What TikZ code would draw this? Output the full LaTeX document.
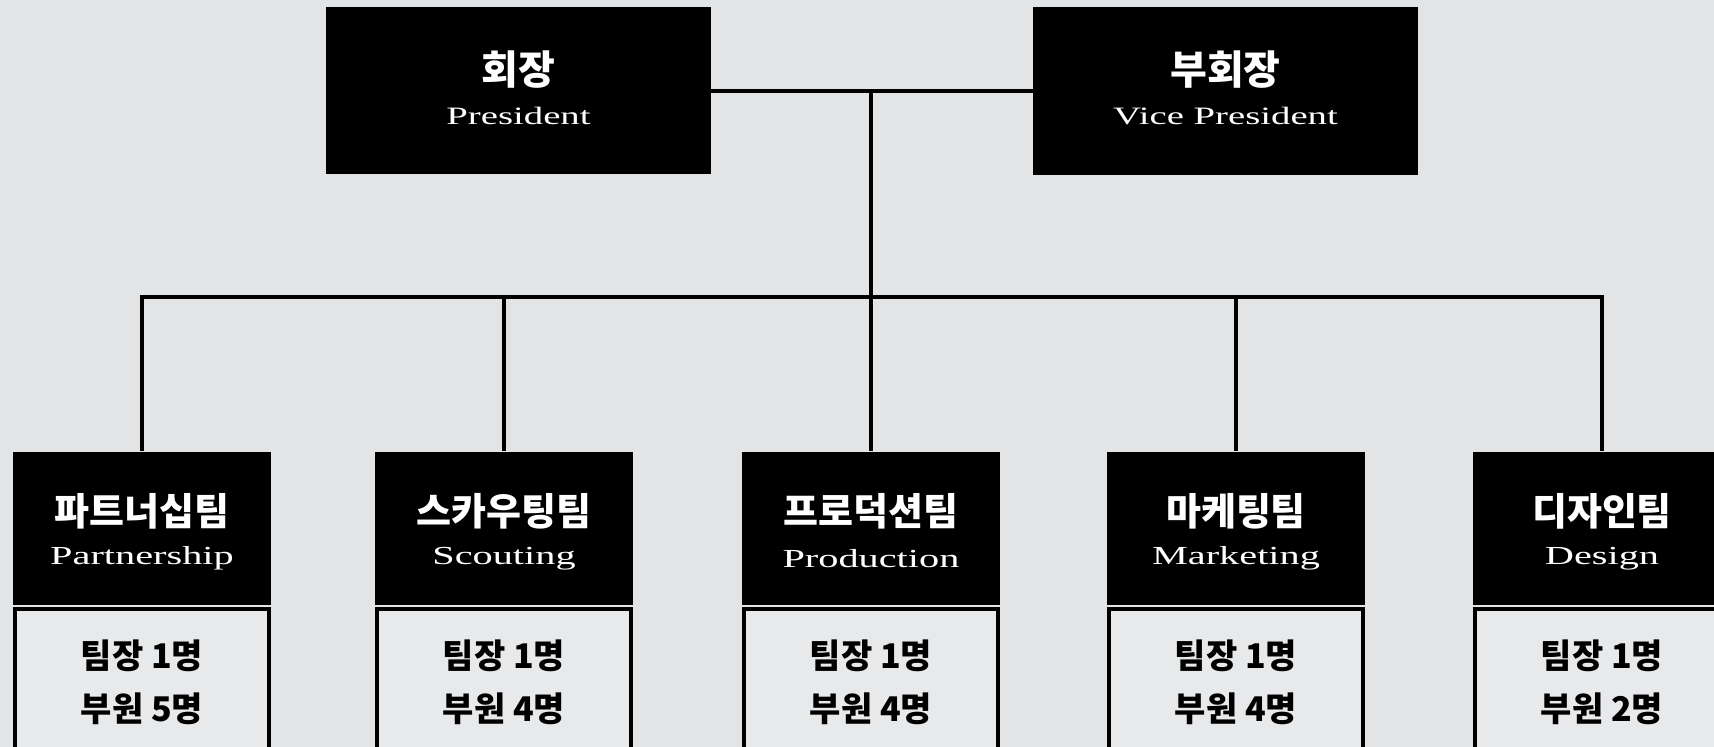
\documentclass[tikz,border=0pt]{standalone}
\usepackage{fontspec}
\newfontfamily\krfont{Noto Sans CJK KR}
\newfontfamily\enfont[FakeStretch=1.55]{Liberation Serif}
\definecolor{paper}{HTML}{E2E4E6}
\definecolor{paperlight}{HTML}{E8E9EB}
\begin{document}
\begin{tikzpicture}[x=1pt,y=-1pt,
  conn/.style={draw=black,line width=4pt},
  topbox/.style={fill=black,draw=none,inner sep=0pt,minimum width=385pt},
  headbox/.style={fill=black,draw=none,inner sep=0pt,minimum width=258pt,minimum height=153pt},
  memberbox/.style={fill=paperlight,draw=black,line width=4pt,inner sep=0pt,minimum width=254pt,minimum height=170pt},
  toptitle/.style={text=white,inner sep=0pt,font=\krfont\bfseries\fontsize{40}{44}\selectfont},
  topsub/.style={text=white,inner sep=0pt,font=\enfont\fontsize{25}{29}\selectfont},
  teamtitle/.style={text=white,inner sep=0pt,font=\krfont\bfseries\fontsize{38}{42}\selectfont},
  teamsub/.style={text=white,inner sep=0pt,font=\enfont\fontsize{26}{30}\selectfont},
  membertext/.style={text=black,inner sep=0pt,font=\krfont\bfseries\fontsize{34}{38}\selectfont}]
\useasboundingbox (0,0) rectangle (1714,747);
\clip (0,0) rectangle (1714,747);
\fill[paper] (0,0) rectangle (1714,747);

% top boxes
\node[topbox,minimum height=167pt] (pres) at (518.5,90.5) {};
\node[topbox,minimum height=168pt] (vp) at (1225.5,91) {};
\node[toptitle] (presk) at ([yshift=-63pt]pres.north) {회장};
\node[topsub] (prese) at ([yshift=-109pt]pres.north) {President};
\node[toptitle] (vpk) at ([yshift=-63pt]vp.north) {부회장};
\node[topsub] (vpe) at ([yshift=-109pt]vp.north) {Vice President};

% team headers
\node[headbox] (t1) at (142,528) {};
\node[headbox] (t2) at (504,528) {};
\node[headbox] (t3) at (871,528) {};
\node[headbox] (t4) at (1236,528) {};
\node[headbox] (t5) at (1602,528) {};

% member boxes
\node[memberbox,anchor=north] (m1) at ([yshift=-2pt]t1.south) {};
\node[memberbox,anchor=north] (m2) at ([yshift=-2pt]t2.south) {};
\node[memberbox,anchor=north] (m3) at ([yshift=-2pt]t3.south) {};
\node[memberbox,anchor=north] (m4) at ([yshift=-2pt]t4.south) {};
\node[memberbox,anchor=north] (m5) at ([yshift=-2pt]t5.south) {};

% team titles
\node[teamtitle] (t1k) at ([yshift=-60pt]t1.north) {파트너십팀};
\node[teamsub]   (t1e) at ([yshift=-107pt]t1.north) {Partnership};
\node[teamtitle] (t2k) at ([yshift=-60pt]t2.north) {스카우팅팀};
\node[teamsub]   (t2e) at ([yshift=-107pt]t2.north) {Scouting};
\node[teamtitle] (t3k) at ([yshift=-60pt]t3.north) {프로덕션팀};
\node[teamsub]   (t3e) at ([yshift=-107pt]t3.north) {Production};
\node[teamtitle] (t4k) at ([yshift=-60pt]t4.north) {마케팅팀};
\node[teamsub]   (t4e) at ([yshift=-107pt]t4.north) {Marketing};
\node[teamtitle] (t5k) at ([yshift=-60pt]t5.north) {디자인팀};
\node[teamsub]   (t5e) at ([yshift=-107pt]t5.north) {Design};

% member texts
\node[membertext] (m1a) at ([yshift=-51pt]t1.south) {팀장 1명};
\node[membertext] (m1b) at ([yshift=-104pt]t1.south) {부원 5명};
\node[membertext] (m2a) at ([yshift=-51pt]t2.south) {팀장 1명};
\node[membertext] (m2b) at ([yshift=-104pt]t2.south) {부원 4명};
\node[membertext] (m3a) at ([yshift=-51pt]t3.south) {팀장 1명};
\node[membertext] (m3b) at ([yshift=-104pt]t3.south) {부원 4명};
\node[membertext] (m4a) at ([yshift=-51pt]t4.south) {팀장 1명};
\node[membertext] (m4b) at ([yshift=-104pt]t4.south) {부원 4명};
\node[membertext] (m5a) at ([yshift=-51pt]t5.south) {팀장 1명};
\node[membertext] (m5b) at ([yshift=-104pt]t5.south) {부원 2명};

% connectors
\coordinate (busy) at (0,297);
\draw[conn] (pres.east) -- (pres.east -| vp.west);
\draw[conn] (pres.east -| t3.north) -- (t3.north);
\draw[conn] (t1.north) -- (t1.north |- busy) -- (t5.north |- busy) -- (t5.north);
\draw[conn] (t2.north |- busy) -- (t2.north);
\draw[conn] (t4.north |- busy) -- (t4.north);
\end{tikzpicture}
\end{document}
